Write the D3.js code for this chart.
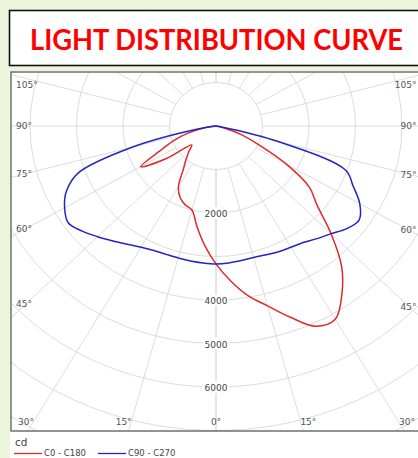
<!DOCTYPE html>
<html>
<head>
<meta charset="utf-8">
<script src="https://d3js.org/d3.v7.min.js"></script>
<style>
  body { margin: 0; background: #eef5dd; }
  svg { display: block; }
</style>
</head>
<body>
<script>

// gamma angles (deg from nadir) and luminous intensity in cd
var gamma = [0, 5, 10, 15, 20, 25, 30, 35, 40, 45, 50, 55, 60, 65, 70, 75, 80, 85, 90];
var c0    = [3170, 3570, 3960, 4280, 4680, 5080, 5130, 4720, 4200, 3500, 2840, 2450, 1740, 1000, 580, 180, 0, 0, 0];
var c180  = [3170, 2760, 2350, 2000, 1930, 1820, 1620, 1230, 1000, 820, 680, 1300, 1870, 1300, 960, 610, 270, 80, 0];
var c90   = [3170, 3160, 3140, 3130, 3150, 3190, 3220, 3270, 3380, 3500, 3670, 3760, 3570, 3250, 2970, 1400, 100, 0, 0];
var c270  = [3170, 3160, 3150, 3140, 3140, 3160, 3220, 3320, 3450, 3600, 3760, 3880, 3760, 3550, 3150, 1840, 420, 0, 0];

var rings = [1000, 2000, 3000, 4000, 5000, 6000, 7000, 8000, 9000];
var ringLabels = ["2000", "4000", "5000", "6000"];
var spokes = [0, 15, 30, 45, 60, 75, 90, 105, 120, 135, 150, 165, 180];
var sideLabels = [45, 60, 75, 90, 105];
var bottomLabels = [0, 15, 30];

var series = [
  {name: "C0 - C180", color: "#dd2b2b", right: c0, left: c180},
  {name: "C90 - C270", color: "#2424c4", right: c90, left: c270}
];

var W = 418, H = 458;
var cx = 216, cy = 126;
var frame = {x: 11, y: 72, w: 412, h: 359};

var svg = d3.select("body").append("svg")
    .attr("width", W)
    .attr("height", H);

svg.append("rect").attr("width", W).attr("height", H).attr("fill", "#eef5dd");

// title box
svg.append("rect")
   .attr("x", 9.5).attr("y", 10.5).attr("width", 420).attr("height", 55)
   .attr("fill", "#fff").attr("stroke", "#111").attr("stroke-width", 1.6);

svg.append("text")
   .attr("x", 216.5).attr("y", 50)
   .attr("text-anchor", "middle")
   .attr("textLength", 373).attr("lengthAdjust", "spacingAndGlyphs")
   .style("font-family", "Lato, 'Open Sans', sans-serif")
   .style("font-weight", "bold")
   .style("font-size", "28px")
   .attr("fill", "#ff0000")
   .text("LIGHT DISTRIBUTION CURVE");

// white chart panel
svg.append("rect")
   .attr("x", 10).attr("y", 71).attr("width", W).attr("height", H)
   .attr("fill", "#fff");

// intensity -> pixels (picture is a little wider than tall)
var xScale = d3.scaleLinear().domain([-6000, 6000]).range([cx - 279, cx + 279]);
var yScale = d3.scaleLinear().domain([0, 6000]).range([cy, cy + 261]);

function px(g, v, side) {
  var a = g * Math.PI / 180;
  return xScale(side * v * Math.sin(a));
}
function py(g, v) {
  var a = g * Math.PI / 180;
  return yScale(v * Math.cos(a));
}

svg.append("clipPath").attr("id", "clip")
   .append("rect")
   .attr("x", frame.x).attr("y", frame.y).attr("width", frame.w).attr("height", frame.h);

var grid = svg.append("g").attr("clip-path", "url(#clip)")
    .attr("fill", "none").attr("stroke", "#dcdcdc").attr("stroke-width", 1);

grid.selectAll("ellipse")
    .data(rings).enter()
    .append("ellipse")
    .attr("cx", cx).attr("cy", cy)
    .attr("rx", function(d) { return xScale(d) - xScale(0); })
    .attr("ry", function(d) { return yScale(d) - yScale(0); });

[-1, 1].forEach(function(side) {
  grid.selectAll("line.s" + side)
      .data(spokes).enter()
      .append("line")
      .attr("class", "s" + side)
      .attr("x1", function(d) { return px(d, rings[0], side); })
      .attr("y1", function(d) { return py(d, rings[0]); })
      .attr("x2", function(d) { return px(d, 14000, side); })
      .attr("y2", function(d) { return py(d, 14000); });
});

// frame
svg.append("rect")
   .attr("x", frame.x).attr("y", frame.y).attr("width", frame.w).attr("height", frame.h)
   .attr("fill", "none").attr("stroke", "#5a5a5a").attr("stroke-width", 1.3);

var labelFont = "'DejaVu Sans', Verdana, sans-serif";

// ring labels with white box
var rl = svg.append("g");
ringLabels.forEach(function(t) {
  var y = py(0, +t);
  rl.append("rect")
    .attr("x", cx - 13).attr("y", y - 6).attr("width", 26).attr("height", 12)
    .attr("fill", "#fff");
  rl.append("text")
    .attr("x", cx).attr("y", y + 1).attr("dy", "0.35em")
    .attr("text-anchor", "middle")
    .style("font-family", labelFont).style("font-size", "9px")
    .attr("fill", "#444")
    .text(t);
});

// angle labels on the sides
var lx = {"-1": 26, "1": 409};
var lAnchor = {"-1": ["start", 16], "1": ["end", 416.5]};
[-1, 1].forEach(function(side) {
  sideLabels.forEach(function(g) {
    var dx = Math.abs(lx[side] - cx);
    var r = dx / (xScale(1) - xScale(0)) / Math.sin(g * Math.PI / 180);
    var y = Math.max(py(g, r), 85);
    svg.append("text")
       .attr("x", lAnchor[side][1]).attr("y", y).attr("dy", "0.35em")
       .attr("text-anchor", lAnchor[side][0])
       .style("font-family", labelFont).style("font-size", "9px")
       .attr("fill", "#555")
       .text(g + "°");
  });
});

// angle labels along the bottom
var by = frame.y + frame.h;
[-1, 1].forEach(function(side) {
  bottomLabels.forEach(function(g) {
    if (g === 0 && side === 1) return;
    var r = (yScale.invert(by)) / Math.cos(g * Math.PI / 180);
    var x = px(g, r, side) + side * (g === 0 ? 0 : 5);
    x = Math.max(26, Math.min(407, x));
    svg.append("text")
       .attr("x", x).attr("y", by - 9).attr("dy", "0.35em")
       .attr("text-anchor", "middle")
       .style("font-family", labelFont).style("font-size", "9px")
       .attr("fill", "#555")
       .text(g + "°");
  });
});

// curves
var line = d3.line()
    .x(function(d) { return d[0]; })
    .y(function(d) { return d[1]; })
    .curve(d3.curveCatmullRom.alpha(0.5));

series.forEach(function(s) {
  var pts = [];
  for (var i = gamma.length - 1; i >= 0; i--) {
    pts.push([px(gamma[i], s.left[i], -1), py(gamma[i], s.left[i])]);
  }
  for (var j = 1; j < gamma.length; j++) {
    pts.push([px(gamma[j], s.right[j], 1), py(gamma[j], s.right[j])]);
  }
  var clean = pts.filter(function(p, k) {
    if (k === 0) return true;
    var q = pts[k - 1];
    return Math.abs(p[0] - q[0]) > 0.01 || Math.abs(p[1] - q[1]) > 0.01;
  });
  svg.append("path")
     .datum(clean)
     .attr("d", line)
     .attr("fill", "none")
     .attr("stroke", s.color)
     .attr("stroke-width", 1.5)
     .attr("stroke-linejoin", "round");
});

// legend
svg.append("text")
   .attr("x", 15).attr("y", 446)
   .style("font-family", labelFont).style("font-size", "10.5px")
   .attr("fill", "#444")
   .text("cd");

var lg = svg.append("g").attr("transform", "translate(14,453.5)");
var lgX = d3.scalePoint().domain(series.map(function(s) { return s.name; })).range([0, 84]);
series.forEach(function(s) {
  var g = lg.append("g").attr("transform", "translate(" + lgX(s.name) + ",0)");
  g.append("line").attr("x1", 0).attr("x2", 28).attr("y1", 0).attr("y2", 0)
   .attr("stroke", s.color).attr("stroke-width", 1.3);
  g.append("text").attr("x", 30).attr("y", 0).attr("dy", "0.35em")
   .style("font-family", labelFont).style("font-size", "8.5px")
   .attr("fill", "#444")
   .text(s.name);
});

</script>
</body>
</html>
